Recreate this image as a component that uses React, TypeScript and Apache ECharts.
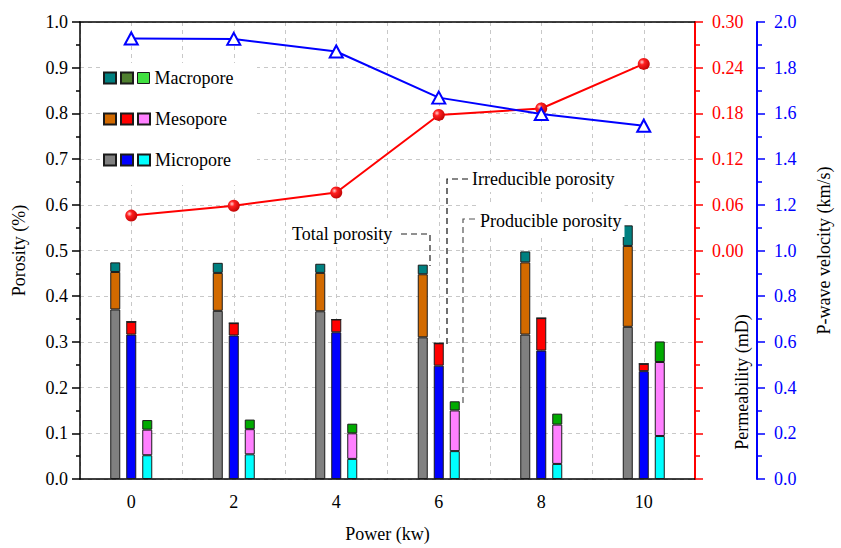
import React, { useEffect, useRef } from 'react';
import * as echarts from 'echarts';

// ---- data ----
const powers = ['0', '2', '4', '6', '8', '10'];

// Total porosity components (%)
const totalMicro = [0.371, 0.368, 0.367, 0.310, 0.316, 0.333];
const totalMeso = [0.082, 0.083, 0.084, 0.138, 0.158, 0.177];
const totalMacro = [0.021, 0.022, 0.020, 0.021, 0.024, 0.045];

// Irreducible porosity components (%)
const irrMicro = [0.316, 0.314, 0.321, 0.248, 0.281, 0.236];
const irrMeso = [0.028, 0.027, 0.028, 0.049, 0.071, 0.016];
const irrMacro = [0, 0, 0, 0, 0, 0];

// Producible porosity components (%)
const prodMicro = [0.052, 0.054, 0.044, 0.061, 0.033, 0.094];
const prodMeso = [0.056, 0.055, 0.056, 0.089, 0.086, 0.162];
const prodMacro = [0.021, 0.021, 0.021, 0.020, 0.024, 0.045];

// Lines
const permeability = [0.0458, 0.0588, 0.0761, 0.178, 0.1864, 0.245];
const pwaveVelocity = [1.928, 1.926, 1.871, 1.669, 1.597, 1.546];

const poreTypes = ['Macropore', 'Mesopore', 'Micropore'];
const groups = ['total', 'irreducible', 'producible'];

const FONT = '"Liberation Serif", "Times New Roman", serif';

const colors: Record<string, Record<string, string>> = {
  total: { Micropore: '#808080', Mesopore: '#D26A00', Macropore: '#008080' },
  irreducible: { Micropore: '#0000FF', Mesopore: '#FF0000', Macropore: '#4F7F2F' },
  producible: { Micropore: '#00FFFF', Mesopore: '#FF80FF', Macropore: '#00AA00' },
};
const legendOverride: Record<string, string> = { 'Macropore (producible)': '#40E040' };

const values: Record<string, Record<string, number[]>> = {
  total: { Micropore: totalMicro, Mesopore: totalMeso, Macropore: totalMacro },
  irreducible: { Micropore: irrMicro, Mesopore: irrMeso, Macropore: irrMacro },
  producible: { Micropore: prodMicro, Mesopore: prodMeso, Macropore: prodMacro },
};

export default function App() {
  const ref = useRef<HTMLDivElement>(null);

  useEffect(() => {
    if (!ref.current) return;
    const chart = echarts.init(ref.current, undefined, { renderer: 'svg' });

    const barSeries: any[] = [];
    groups.forEach((g) => {
      ['Micropore', 'Mesopore', 'Macropore'].forEach((p) => {
        barSeries.push({
          type: 'bar',
          name: `${p} (${g})`,
          stack: g,
          xAxisIndex: 0,
          yAxisIndex: 0,
          barWidth: 10,
          barGap: '60%',
          data: values[g][p],
          itemStyle: { color: colors[g][p], borderColor: '#1a1a1a', borderWidth: 1 },
          z: 3,
        });
      });
    });

    const rowTops = [69, 110, 151];
    const legends = poreTypes.map((p, i) => ({
      show: true,
      orient: 'horizontal',
      left: 103,
      top: rowTops[i],
      padding: 0,
      itemWidth: 12,
      itemHeight: 11,
      itemGap: 3,
      selectedMode: false,
      data: groups.map((g) => {
        const name = `${p} (${g})`;
        const item: any = { name, icon: 'rect' };
        if (legendOverride[name]) item.itemStyle = { color: legendOverride[name], borderColor: '#1a1a1a', borderWidth: 1 };
        return item;
      }),
      formatter: (n: string) => (n.endsWith('(producible)') ? n.split(' (')[0] : ''),
      textStyle: { fontSize: 18, fontFamily: FONT, color: '#000' },
      z: 5,
    }));

    const dashed = { color: '#c8c8c8', type: [4, 4] as any, width: 1 };
    const labelFont = { fontSize: 18, fontFamily: FONT };

    const option: any = {
      animation: false,
      backgroundColor: '#fff',
      grid: { left: 80, right: 133, top: 22, bottom: 65, containLabel: false },
      legend: legends,
      xAxis: [
        {
          type: 'category',
          data: powers,
          position: 'bottom',
          boundaryGap: true,
          name: 'Power (kw)',
          nameLocation: 'middle',
          nameGap: 46,
          nameTextStyle: { ...labelFont, color: '#000' },
          axisLine: { onZero: false, lineStyle: { color: '#000', width: 1.5 } },
          axisTick: { alignWithLabel: true, length: 9, lineStyle: { color: '#000', width: 1.5 } },
          axisLabel: { ...labelFont, color: '#000', margin: 14 },
          splitLine: { show: false },
        },
        {
          type: 'value',
          position: 'top',
          min: -1,
          max: 11,
          interval: 1,
          axisLine: { show: true, onZero: false, lineStyle: { color: '#000', width: 1.5 } },
          axisTick: { show: false },
          axisLabel: { show: false },
          splitLine: { show: true, lineStyle: dashed },
        },
      ],
      yAxis: [
        {
          type: 'value',
          position: 'left',
          min: 0,
          max: 1,
          interval: 0.1,
          name: 'Porosity (%)',
          nameLocation: 'middle',
          nameGap: 52,
          nameTextStyle: { ...labelFont, color: '#000' },
          axisLine: { show: true, onZero: false, lineStyle: { color: '#000', width: 1.5 } },
          axisTick: { show: true, length: 8, lineStyle: { color: '#000', width: 1.5 } },
          minorTick: { show: true, splitNumber: 2, length: 4, lineStyle: { color: '#000', width: 1.5 } },
          axisLabel: { ...labelFont, color: '#000', margin: 12, formatter: (v: number) => v.toFixed(1) },
          splitLine: { show: true, lineStyle: dashed },
        },
        {
          type: 'value',
          position: 'right',
          min: -0.3,
          max: 0.3,
          interval: 0.06,
          axisLine: { show: true, onZero: false, lineStyle: { color: '#FF0000', width: 2 } },
          axisTick: { show: true, length: 8, lineStyle: { color: '#FF0000', width: 1.5 } },
          minorTick: { show: true, splitNumber: 2, length: 5, lineStyle: { color: '#FF0000', width: 1.5 } },
          axisLabel: {
            ...labelFont,
            color: '#FF0000',
            margin: 17,
            formatter: (v: number) => (v < -1e-9 ? '' : Math.abs(v).toFixed(2)),
          },
          splitLine: { show: false },
        },
        {
          type: 'value',
          position: 'right',
          offset: 62,
          min: 0,
          max: 2,
          interval: 0.2,
          name: 'P-wave velocity (km/s)',
          nameLocation: 'middle',
          nameGap: 58,
          nameRotate: 90,
          nameTextStyle: { ...labelFont, color: '#000' },
          axisLine: { show: true, onZero: false, lineStyle: { color: '#0000FF', width: 2 } },
          axisTick: { show: true, length: 8, lineStyle: { color: '#0000FF', width: 1.5 } },
          minorTick: { show: true, splitNumber: 2, length: 5, lineStyle: { color: '#0000FF', width: 1.5 } },
          axisLabel: { ...labelFont, color: '#0000FF', margin: 17, formatter: (v: number) => v.toFixed(1) },
          splitLine: { show: false },
        },
      ],
      series: [
        ...barSeries,
        {
          type: 'line',
          name: 'Permeability',
          xAxisIndex: 0,
          yAxisIndex: 1,
          data: permeability,
          symbol: 'circle',
          symbolSize: 12,
          lineStyle: { color: '#FF0000', width: 2 },
          itemStyle: {
            color: {
              type: 'radial',
              x: 0.35,
              y: 0.35,
              r: 0.75,
              colorStops: [
                { offset: 0, color: '#ffd0d0' },
                { offset: 0.3, color: '#ff2020' },
                { offset: 1, color: '#b80000' },
              ],
            },
          },
          z: 6,
        },
        {
          type: 'line',
          name: 'P-wave velocity',
          xAxisIndex: 0,
          yAxisIndex: 2,
          data: pwaveVelocity,
          symbol: 'triangle',
          symbolSize: [13, 12],
          lineStyle: { color: '#0000FF', width: 2 },
          itemStyle: { color: '#ffffff', borderColor: '#0000FF', borderWidth: 2 },
          z: 7,
        },
      ],
      graphic: [
        { type: 'rect', z: 1, shape: { x: 100, y: 63, width: 157, height: 122 }, style: { fill: '#fff' } },
        {
          type: 'text',
          z: 10,
          rotation: Math.PI / 2,
          x: 742,
          y: 382,
          style: { text: 'Permeability (mD)', fontSize: 18, fontFamily: FONT, fill: '#000', align: 'center', verticalAlign: 'middle' },
        },
        {
          type: 'text',
          z: 10,
          x: 290,
          y: 234,
          style: { text: 'Total porosity', fontSize: 18, fontFamily: FONT, fill: '#000', verticalAlign: 'middle', backgroundColor: '#fff', padding: [4, 2] },
        },
        {
          type: 'polyline',
          z: 10,
          shape: { points: [[401, 234], [430, 234], [430, 266]] },
          style: { stroke: '#222', lineWidth: 1.2, lineDash: [6, 4], fill: null },
        },
        {
          type: 'text',
          z: 10,
          x: 470,
          y: 179,
          style: { text: 'Irreducible porosity', fontSize: 18, fontFamily: FONT, fill: '#000', verticalAlign: 'middle', backgroundColor: '#fff', padding: [4, 2] },
        },
        {
          type: 'polyline',
          z: 10,
          shape: { points: [[468, 179], [447, 179], [447, 345]] },
          style: { stroke: '#111', lineWidth: 1.2, lineDash: [6, 4], fill: null },
        },
        {
          type: 'text',
          z: 10,
          x: 477,
          y: 221,
          style: { text: 'Producible porosity', fontSize: 18, fontFamily: FONT, fill: '#000', verticalAlign: 'middle', backgroundColor: '#fff', padding: [7, 3] },
        },
        {
          type: 'polyline',
          z: 11,
          shape: { points: [[475, 219], [463, 219], [463, 404]] },
          style: { stroke: '#555', lineWidth: 1.2, lineDash: [6, 4], fill: null },
        },
      ],
    };

    chart.setOption(option);
    return () => chart.dispose();
  }, []);

  return (
    <div
      ref={ref}
      style={{ position: 'fixed', left: 0, top: 0, width: 841, height: 548, background: '#fff' }}
    />
  );
}
